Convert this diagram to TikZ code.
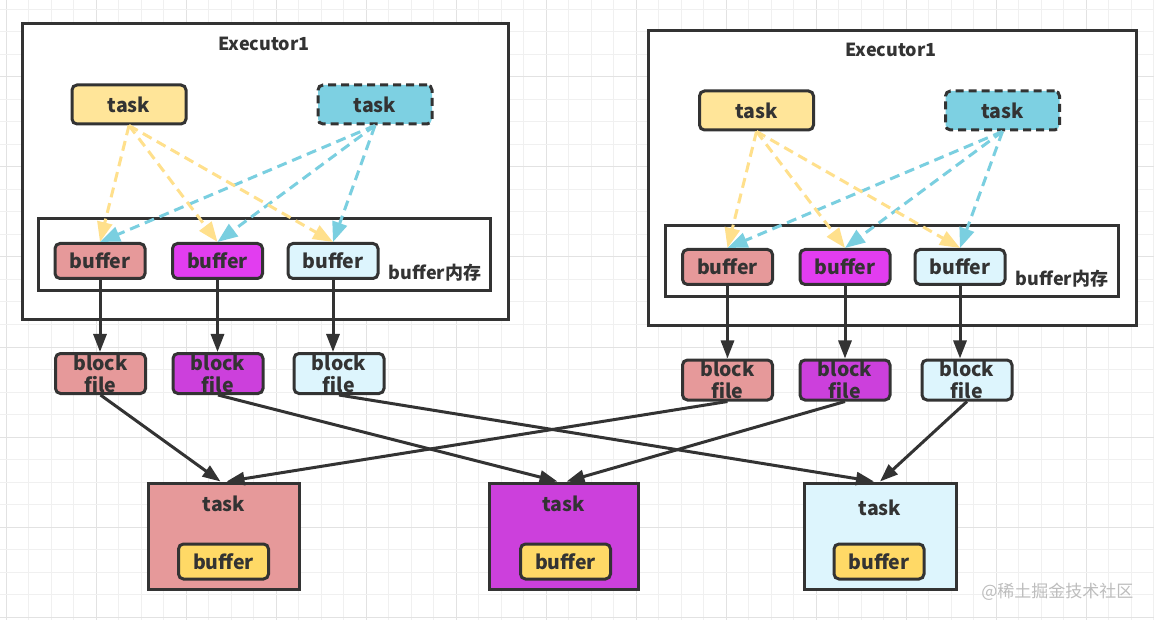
\documentclass[tikz,border=0pt]{standalone}
\usepackage{fontspec}
\setmainfont{Noto Sans CJK SC}
\usetikzlibrary{arrows.meta,positioning}
\definecolor{ink}{HTML}{333333}
\definecolor{ytask}{HTML}{FFE599}
\definecolor{ctask}{HTML}{7DD0E2}
\definecolor{rfill}{HTML}{E6999A}
\definecolor{mbuf}{HTML}{E23DF0}
\definecolor{mfill}{HTML}{CC40DC}
\definecolor{lbfill}{HTML}{DDF5FD}
\definecolor{ybuf}{HTML}{FFD966}
\definecolor{yarr}{HTML}{FFE08C}
\definecolor{carr}{HTML}{7ACFE0}
\definecolor{gminor}{HTML}{F0F0F0}
\definecolor{gmajor}{HTML}{E2E2E2}
\definecolor{wm}{HTML}{BDBDBD}
\tikzset{
  lbl/.style={font=\bfseries\fontsize{19.5}{22}\selectfont, text=ink},
  box/.style={draw=ink, line width=3pt, rounded corners=5pt, inner sep=0pt, lbl},
  taskbox/.style={box, minimum width=114pt, minimum height=39pt},
  bufbox/.style={box, minimum width=90pt, minimum height=35pt},
  bfbox/.style={box, minimum width=90pt, minimum height=40pt, align=center},
  frame/.style={draw=ink, line width=3pt, fill=white, inner sep=0pt},
  bigtask/.style={draw=ink, line width=3pt, inner sep=0pt, minimum width=151pt, minimum height=106pt},
  darr/.style={line width=3pt, dash pattern=on 10pt off 6pt, -{Triangle[length=20pt,width=15pt]}},
  barr/.style={draw=ink, line width=3pt, -{Triangle[length=18pt,width=13pt]}},
}
\begin{document}
\begin{tikzpicture}[x=1pt,y=-1pt]
\useasboundingbox (0,0) rectangle (1154,620);
\fill[white] (0,0) rectangle (1154,620);
% grid
\foreach \k in {0,...,51} {
  \pgfmathsetmacro{\gx}{6+22.5*\k}
  \pgfmathtruncatemacro{\m}{mod(\k,4)}
  \ifnum\m=0 \draw[gmajor,line width=1pt] (\gx,0) -- (\gx,620);
  \else \draw[gminor,line width=1pt] (\gx,0) -- (\gx,620); \fi
}
\foreach \k in {0,...,27} {
  \pgfmathsetmacro{\gy}{9.5+22.5*\k}
  \pgfmathtruncatemacro{\m}{mod(\k+1,4)}
  \ifnum\m=0 \draw[gmajor,line width=1pt] (0,\gy) -- (1154,\gy);
  \else \draw[gminor,line width=1pt] (0,\gy) -- (1154,\gy); \fi
}

% ===== Left executor =====
\node[frame, minimum width=486pt, minimum height=296pt] (exL) at (265,172) {};
\node[lbl, font=\bfseries\fontsize{18}{20}\selectfont] (exLt) at (264,44) {Executor1};
\node[taskbox, fill=ytask] (ytL) at (129,104.5) {task};
\node[taskbox, fill=ctask, dash pattern=on 8pt off 5pt] (ctL) at (375,104.5) {task};
\node[frame, minimum width=452pt, minimum height=72pt] (memL) at (264,255) {};
\node[bufbox, fill=rfill] (bL1) at (100,261) {buffer};
\node[bufbox, fill=mbuf] (bL2) at (217.5,261) {buffer};
\node[bufbox, fill=lbfill] (bL3) at (333,261) {buffer};
\node[lbl, font=\bfseries\fontsize{18}{21}\selectfont] (mL) at (435,273) {buffer内存};

\foreach \b in {bL1,bL2,bL3} {
  \draw[darr, yarr] (ytL.south) -- (\b.north);
  \draw[darr, carr] (ctL.south) -- (\b.north);
}

\node[bfbox, fill=rfill] (fL1) at (100.5,373.5) {block\\file};
\node[bfbox, fill=mfill] (fL2) at (218,373.5) {block\\file};
\node[bfbox, fill=lbfill] (fL3) at (339,373.5) {block\\file};
\draw[barr] (bL1.south) -- (bL1.south |- fL1.north);
\draw[barr] (bL2.south) -- (bL2.south |- fL2.north);
\draw[barr] (bL3.south) -- (bL3.south |- fL3.north);

% ===== Right executor =====
\node[frame, minimum width=488pt, minimum height=295pt] (exR) at (892,178.5) {};
\node[lbl, font=\bfseries\fontsize{18}{20}\selectfont] (exRt) at (891,50) {Executor1};
\node[taskbox, fill=ytask] (ytR) at (756.5,110.5) {task};
\node[taskbox, fill=ctask, dash pattern=on 8pt off 5pt] (ctR) at (1002.5,110.5) {task};
\node[frame, minimum width=453pt, minimum height=71pt] (memR) at (891.5,261.5) {};
\node[bufbox, fill=rfill] (bR1) at (727.5,267) {buffer};
\node[bufbox, fill=mbuf] (bR2) at (845,267) {buffer};
\node[bufbox, fill=lbfill] (bR3) at (960,267) {buffer};
\node[lbl, font=\bfseries\fontsize{18}{21}\selectfont] (mR) at (1062,279) {buffer内存};

\foreach \b in {bR1,bR2,bR3} {
  \draw[darr, yarr] (ytR.south) -- (\b.north);
  \draw[darr, carr] (ctR.south) -- (\b.north);
}

\node[bfbox, fill=rfill] (fR1) at (727.5,380) {block\\file};
\node[bfbox, fill=mfill] (fR2) at (845,380) {block\\file};
\node[bfbox, fill=lbfill] (fR3) at (967,380) {block\\file};
\draw[barr] (bR1.south) -- (bR1.south |- fR1.north);
\draw[barr] (bR2.south) -- (bR2.south |- fR2.north);
\draw[barr] (bR3.south) -- (bR3.south |- fR3.north);

% ===== Bottom tasks =====
\node[bigtask, fill=rfill] (T1) at (223.5,536) {};
\node[bigtask, fill=mfill, minimum width=149pt] (T2) at (563.5,536) {};
\node[bigtask, fill=lbfill, minimum width=152pt] (T3) at (880,536) {};
\node[lbl] (T1t) at (224,504) {task};
\node[lbl] (T2t) at (563.5,504) {task};
\node[lbl] (T3t) at (880,508) {task};
\node[bufbox, fill=ybuf] (B1) at (223.5,561.5) {buffer};
\node[bufbox, fill=ybuf] (B2) at (565.5,561.5) {buffer};
\node[bufbox, fill=ybuf] (B3) at (879,561.5) {buffer};

\draw[barr] (fL1.south) -- ([xshift=-3pt]T1.north);
\draw[barr] (fR1.south) -- ([xshift=3pt]T1.north);
\draw[barr] (fL2.south) -- ([xshift=-6pt]T2.north);
\draw[barr] (fR2.south) -- ([xshift=3pt]T2.north);
\draw[barr] (fL3.south) -- ([xshift=-6pt]T3.north);
\draw[barr] (fR3.south) -- ([xshift=0pt]T3.north);

% watermark
\node[font=\fontsize{17}{20}\selectfont, text=wm, anchor=east] (wmk) at (1137,592) {@稀土掘金技术社区};
\end{tikzpicture}
\end{document}
